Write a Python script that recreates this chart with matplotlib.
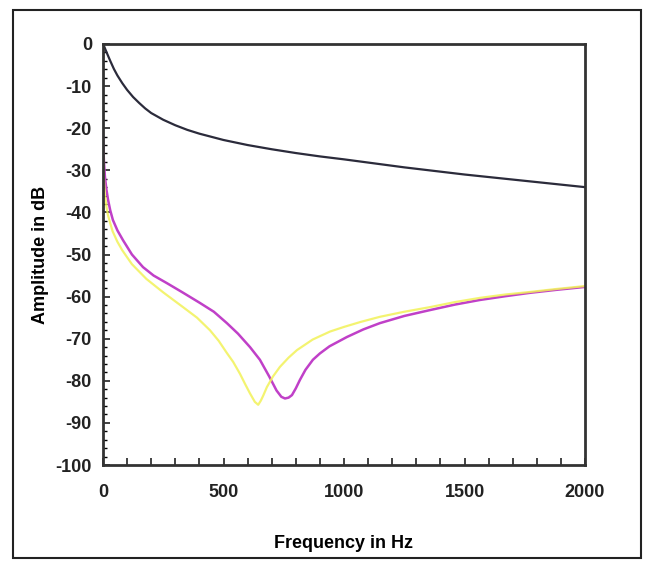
import matplotlib
matplotlib.use("Agg")
import matplotlib.pyplot as plt
from matplotlib.patches import Rectangle
from matplotlib.ticker import MultipleLocator

plt.rcParams['font.family'] = ['Liberation Sans', 'DejaVu Sans']
plt.rcParams['axes.unicode_minus'] = False

#DATA
freq_black = [0, 5, 15, 30, 45, 60, 80, 100, 125, 150, 175, 200, 250, 300, 350, 400, 500, 600,
              700, 800, 900, 1000, 1250, 1500, 1750, 2000]
amp_black = [0, -0.6, -2, -4, -5.9, -7.5, -9.3, -10.9, -12.6, -14.0, -15.3, -16.4, -18.0, -19.3,
             -20.4, -21.3, -22.8, -24.0, -25.0, -25.9, -26.7, -27.4, -29.3, -31.0, -32.5, -34.0]

freq_magenta = [0, 4, 8, 14, 21, 30, 41, 60, 83, 120, 166, 210, 265, 330, 402, 460, 514, 560,
                610, 651, 690, 720, 740, 755, 770, 784, 800, 817, 840, 871, 900, 940, 1012,
                1080, 1149, 1250, 1357, 1460, 1564, 1670, 1772, 1880, 2000]
amp_magenta = [-22.5, -28, -31.5, -34.5, -37, -39.5, -41.8, -44.3, -46.6, -50, -53, -55, -56.8,
               -59, -61.5, -63.6, -66.3, -68.8, -72, -75, -79, -82.3, -83.8, -84.2, -84, -83.4,
               -81.8, -79.8, -77.4, -75, -73.5, -71.8, -69.6, -67.8, -66.3, -64.6, -63.2, -61.9,
               -60.8, -59.9, -59.1, -58.4, -57.7]

freq_yellow = [0, 4, 8, 14, 20, 30, 40, 60, 80, 120, 180, 250, 332, 390, 444, 480, 514, 540,
               568, 590, 610, 630, 644, 655, 665, 680, 705, 734, 770, 805, 870, 942, 1000, 1070,
               1149, 1250, 1357, 1460, 1564, 1670, 1772, 1880, 2000]
amp_yellow = [-25, -32, -36, -38.5, -40.5, -42.6, -44.5, -47, -49, -52.3, -55.8, -59, -62.5,
              -65, -68, -70.5, -73.4, -75.5, -78.3, -80.8, -83, -85, -85.7, -84.7, -83.5, -81.5,
              -79, -76.7, -74.5, -72.7, -70.2, -68.3, -67.2, -66.0, -64.8, -63.6, -62.5, -61.3,
              -60.3, -59.5, -58.9, -58.2, -57.5]

x_ticks = [0, 500, 1000, 1500, 2000]
y_ticks = [0, -10, -20, -30, -40, -50, -60, -70, -80, -90, -100]

#FIGURE
fig = plt.figure(figsize=(6.46, 5.63), dpi=100)
ax = fig.add_axes([103/646, 1 - 465/563, (585-103)/646, (465-44)/563])

ax.plot(freq_black, amp_black, color='#2b2b3b', lw=1.6)
ax.plot(freq_magenta, amp_magenta, color='#c040c8', lw=1.8)
ax.plot(freq_yellow, amp_yellow, color='#f2f258', lw=1.6, alpha=0.85)

ax.set_xlim(0, 2000)
ax.set_ylim(-100, 0)
ax.set_xticks(x_ticks)
ax.set_yticks(y_ticks)
ax.xaxis.set_minor_locator(MultipleLocator(100))
ax.yaxis.set_minor_locator(MultipleLocator(2))

ax.tick_params(axis='x', which='both', direction='in', length=5, width=1.2,
               labelsize=13, pad=14, colors='#222222')
ax.tick_params(axis='y', which='major', direction='in', length=5, width=1.2,
               labelsize=13, pad=8, colors='#222222')
ax.tick_params(axis='y', which='minor', direction='in', length=3, width=1.0)
ax.tick_params(top=False, right=False, which='both')
for lab in ax.get_xticklabels() + ax.get_yticklabels():
    lab.set_fontweight('bold')

for s in ax.spines.values():
    s.set_linewidth(2)
    s.set_color('#333333')

ax.set_xlabel('Frequency in Hz', fontsize=13, fontweight='bold', labelpad=24)
ax.set_ylabel('Amplitude in dB', fontsize=13, fontweight='bold', labelpad=5)

#outer frame
fig.patches.append(Rectangle((13/646, 1 - 558/563), (641-13)/646, (558-10)/563,
                             transform=fig.transFigure, fill=False,
                             edgecolor='#222222', lw=1.5))

fig.savefig('out.png', dpi=100)
